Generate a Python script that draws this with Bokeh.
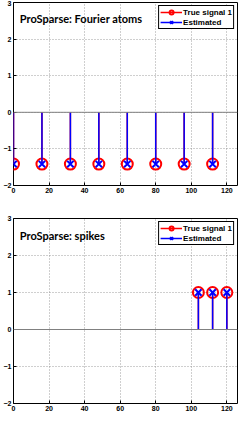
from bokeh.plotting import figure
from bokeh.models import Span, Legend, LegendItem, Label, FixedTicker, Range1d
from bokeh.layouts import column
from bokeh.embed import file_html
from bokeh.resources import INLINE

# Data
fourier_pos = [0, 16, 32, 48, 64, 80, 96, 112]
fourier_true = [-1.414] * 8
fourier_est = [-1.414] * 8
spike_pos = [104, 112, 120]
spike_true = [1.0, 1.0, 1.0]
spike_est = [1.0, 1.0, 1.0]
x_ticks = [0, 20, 40, 60, 80, 100, 120]
y_ticks = [-2, -1, 0, 1, 2, 3]
titles = ["ProSparse: Fourier atoms", "ProSparse: spikes"]


def make_panel(xs, ys_true, ys_est, title, height, top, bottom):
    p = figure(width=241, height=height, output_backend="svg", toolbar_location=None,
               x_range=Range1d(0, 126), y_range=Range1d(-2, 3),
               min_border_left=12, min_border_right=4, min_border_top=top, min_border_bottom=bottom)
    p.outline_line_color = "black"
    p.outline_line_width = 1
    p.outline_line_alpha = 1
    for ax in (p.xaxis[0], p.yaxis[0]):
        ax.major_label_text_font = "Liberation Sans"
        ax.major_label_text_font_style = "bold"
        ax.major_label_text_font_size = "7px"
        ax.major_label_text_color = "black"
        ax.major_tick_in = 3
        ax.major_tick_out = 0
        ax.major_tick_line_color = "black"
        ax.minor_tick_line_color = None
        ax.axis_line_color = None
        ax.major_label_standoff = 2
    p.xaxis.ticker = FixedTicker(ticks=x_ticks)
    p.yaxis.ticker = FixedTicker(ticks=y_ticks)
    p.grid.grid_line_color = "#888888"
    p.grid.grid_line_dash = "1 2"
    p.grid.grid_line_alpha = 0.8

    p.add_layout(Span(location=0, dimension="width", line_color="#808080", line_width=1))

    zeros = [0] * len(xs)
    r_seg = p.segment(x0=xs, y0=zeros, x1=xs, y1=ys_true, line_color="red", line_width=1.5)
    r_circ = p.scatter(xs, ys_true, marker="circle", size=11, fill_color=None,
                       line_color="red", line_width=2)
    b_seg = p.segment(x0=xs, y0=zeros, x1=xs, y1=ys_est, line_color="blue", line_width=1.5)
    b_x = p.scatter(xs, ys_est, marker="x", size=9, line_color="blue", line_width=2)

    p.add_layout(Label(x=3.5, y=2.55, text=title, text_font="Lato", text_font_style="bold",
                       text_font_size="11px", text_baseline="middle", text_color="black"))

    legend = Legend(items=[LegendItem(label="True signal 1", renderers=[r_seg, r_circ]),
                           LegendItem(label="Estimated", renderers=[b_seg, b_x])],
                    location="top_right")
    legend.label_text_font = "Liberation Sans"
    legend.label_text_font_style = "bold"
    legend.label_text_font_size = "8px"
    legend.label_text_color = "black"
    legend.label_height = 9
    legend.glyph_height = 10
    legend.glyph_width = 22
    legend.spacing = 0
    legend.padding = 1
    legend.margin = 3
    legend.label_standoff = 1
    legend.border_line_color = "black"
    legend.border_line_width = 1
    legend.border_line_alpha = 1
    p.add_layout(legend)
    return p


p1 = make_panel(fourier_pos, fourier_true, fourier_est, titles[0], 206, 2, 21)
p2 = make_panel(spike_pos, spike_true, spike_est, titles[1], 209, 12, 12)
p = column(p1, p2, spacing=0)

open("out.html", "w").write(file_html(p, INLINE))
